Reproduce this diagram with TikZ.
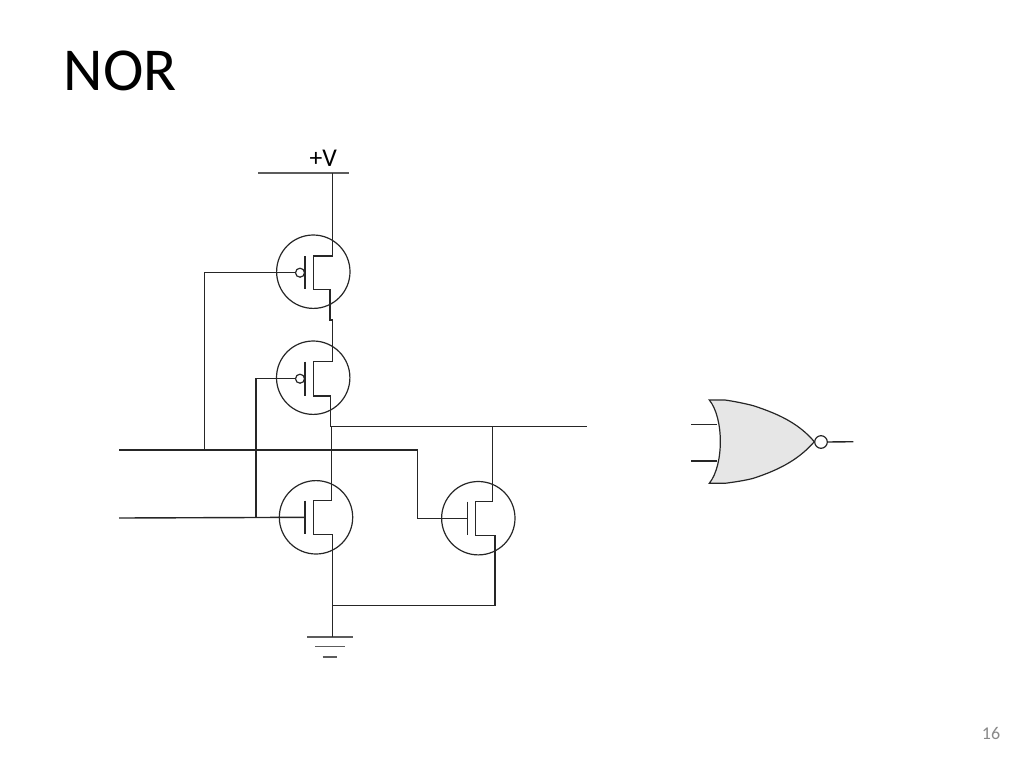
\documentclass[tikz,border=0pt]{standalone}
\usepackage{fontspec}
\setmainfont{Carlito}
\definecolor{gatefill}{HTML}{E6E6E6}
\definecolor{pagenum}{HTML}{898989}
\definecolor{ink}{HTML}{262626}
\tikzset{
  wire/.style={draw=ink,line width=1.4pt,line join=miter},
  railwire/.style={draw=ink!75,line width=1.6pt},
  fet/.style={circle,draw=ink,line width=1.2pt,minimum size=73.4pt,inner sep=0pt,fill=none},
  bubble/.style={circle,draw=ink,line width=1.2pt,inner sep=0pt,fill=none},
}
\begin{document}
\begin{tikzpicture}[x=1pt,y=-1pt]
\useasboundingbox (0,0) rectangle (1024,768);
% texts
\node[anchor=west,inner sep=0pt,font=\fontsize{61}{61}\selectfont,text=black] (title) at (63.5,71) {NOR};
\node[inner sep=0pt,font=\fontsize{25.6}{26}\selectfont,text=black] (vlabel) at (323.3,158) {+V};
\node[inner sep=0pt,font=\fontsize{18}{18}\selectfont,text=pagenum] (pg) at (991,733.5) {16};
% transistor bodies
\node[fet] (t1) at (313.3,271.7) {};
\node[fet] (t2) at (313.2,377.7) {};
\node[fet] (t3) at (316,517.3) {};
\node[fet] (t4) at (478.3,518.2) {};
\node[bubble,minimum size=9pt] (b1) at (300,272.7) {};
\node[bubble,minimum size=9pt] (b2) at (300,378.7) {};
% named points
\coordinate (vl) at (258,173); \coordinate (vr) at (349.3,173); \coordinate (vt) at (332.7,173);
\coordinate (t1d) at (332.7,256); \coordinate (t1ct) at (313.3,256); \coordinate (t1cb) at (313.3,289.3);
\coordinate (t1s) at (330,289.3); \coordinate (j1) at (330,320); \coordinate (j2) at (332.7,320);
\coordinate (t1bt) at (305,256); \coordinate (t1bb) at (305,289.3);
\coordinate (t2d) at (332.7,361.7); \coordinate (t2ct) at (313.3,361.7); \coordinate (t2cb) at (313.3,396);
\coordinate (t2s) at (330.7,396); \coordinate (t2bt) at (305,361.7); \coordinate (t2bb) at (305,395.7);
\coordinate (o1) at (330.7,426.7); \coordinate (o2) at (587,426.7); \coordinate (o3) at (492.7,426.7);
\coordinate (t3d) at (331.3,500.5); \coordinate (t3ct) at (313.7,500.5); \coordinate (t3cb) at (313.7,534.7);
\coordinate (t3s) at (332.7,534.7); \coordinate (t3bt) at (305,500.7); \coordinate (t3bb) at (305,534);
\coordinate (t3top) at (331.3,426.7);
\coordinate (t4d) at (492.7,501.3); \coordinate (t4ct) at (475.7,501.3); \coordinate (t4cb) at (475.7,535.3);
\coordinate (t4s) at (495,535.3); \coordinate (t4bt) at (467.3,501.7); \coordinate (t4bb) at (467.3,535.3);
\coordinate (t4g) at (467.3,518.3); \coordinate (a1) at (119,450); \coordinate (a2) at (417.7,450); \coordinate (a3) at (417.7,518.3);
\coordinate (c1) at (119,518); \coordinate (t3g) at (305,517.3);
\coordinate (g1) at (204.7,450); \coordinate (g2) at (204.7,272.7);
\coordinate (h1) at (256,517.5); \coordinate (h2) at (256,378.7);
\coordinate (gn) at (495,605.7); \coordinate (gm) at (332.7,605.7);
\coordinate (e1l) at (307.3,636.7); \coordinate (e1r) at (352.7,636.7); \coordinate (e1m) at (332.7,636.7);
\coordinate (e2l) at (315,646.3); \coordinate (e2r) at (345,646.3);
\coordinate (e3l) at (322.7,657); \coordinate (e3r) at (337.3,657);
% rails
\draw[railwire] (vl) -- (vr);
\draw[railwire] (e1l) -- (e1r);
\draw[railwire] (e2l) -- (e2r);
\draw[railwire] (e3l) -- (e3r);
% transistor plates
\draw[wire] (t1bt) -- (t1bb);
\draw[wire] (t2bt) -- (t2bb);
\draw[wire] (t3bt) -- (t3bb);
\draw[wire] (t4bt) -- (t4bb);
% pull-up chain
\draw[wire] (vt) -- (t1d) -- (t1ct) -- (t1cb) -- (t1s) -- (j1) -- (j2) -- (t2d) -- (t2ct) -- (t2cb) -- (t2s) -- (o1);
\draw[wire] (o1) -- (o2);
\draw[wire] (t3top) -- (t3d) -- (t3ct) -- (t3cb) -- (t3s) -- (e1m);
\draw[wire] (o3) -- (t4d) -- (t4ct) -- (t4cb) -- (t4s) -- (gn) -- (gm);
% inputs
\draw[wire] (a1) -- (a2) -- (a3) -- (t4g);
\draw[wire] (c1) -- (h1) -- (t3g);
\draw[wire] (g1) -- (g2) -- (b1.west);
\draw[wire] (h1) -- (h2) -- (b2.west);
% NOR gate symbol
\node[bubble,minimum size=12.6pt] (nb) at (821,442) {};
\coordinate (gt) at (709.3,400); \coordinate (gb) at (709.3,483.3); \coordinate (tip) at (814.3,441.7);
\coordinate (in1a) at (691,424.3); \coordinate (in1b) at (716.7,424.3);
\coordinate (in2a) at (691,461); \coordinate (in2b) at (716.7,461);
\coordinate (out) at (853.3,441.7);
\draw[draw=ink,line width=1.2pt,fill=gatefill]
  (gt) -- (725,400) .. controls (735,401.5) and (745,403.5) .. (753.3,405.7)
  .. controls (782,415) and (800,425) .. (tip)
  .. controls (800,458) and (782,469) .. (753.3,478.3)
  .. controls (745,480.5) and (735,482) .. (725,483.3) -- (gb)
  .. controls (724,465) and (724,418) .. (gt) -- cycle;
\draw[wire] (in1a) -- (in1b);
\draw[wire] (in2a) -- (in2b);
\draw[wire] (nb.east) -- (out);
\end{tikzpicture}
\end{document}
